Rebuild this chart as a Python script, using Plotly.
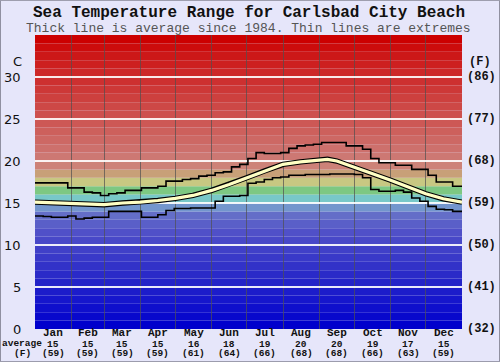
import plotly.graph_objects as go

# ---------------- data ----------------
months = ["Jan", "Feb", "Mar", "Apr", "May", "Jun", "Jul", "Aug", "Sep", "Oct", "Nov", "Dec"]
month_days = [31, 28, 31, 30, 31, 30, 31, 31, 30, 31, 30, 31]
avg_c = [15, 15, 15, 15, 16, 18, 19, 20, 20, 19, 17, 15]
avg_f = [59, 59, 59, 59, 61, 64, 66, 68, 68, 66, 63, 59]

left_ticks = [0, 5, 10, 15, 20, 25, 30]
right_ticks = ["(32)", "(41)", "(50)", "(59)", "(68)", "(77)", "(86)"]

# weekly extremes (day of year where each week starts)
week_day = [0, 7, 14, 21, 28, 35, 42, 49, 56, 63, 70, 77, 84, 91, 98, 105, 112, 119, 126,
            133, 140, 147, 154, 161, 168, 175, 182, 189, 196, 203, 210, 217, 224, 231, 238,
            245, 252, 259, 266, 273, 280, 287, 294, 301, 308, 315, 322, 329, 336, 343, 350,
            357, 365]
max_c = [17.4, 17.4, 17.4, 17.4, 16.8, 16.8, 16.3, 16.2, 15.9, 16.1, 16.2, 16.5, 16.5,
         16.8, 16.8, 17.0, 17.6, 17.6, 17.8, 17.9, 18.2, 18.3, 18.6, 18.7, 19.3, 19.6,
         20.3, 21.0, 20.9, 20.9, 21.0, 21.5, 21.8, 21.9, 22.0, 22.2, 22.2, 22.2, 21.8,
         21.8, 21.4, 20.3, 19.8, 19.8, 19.5, 19.5, 19.0, 19.0, 18.3, 17.5, 17.5, 17.0, 17.0]
min_c = [13.45, 13.4, 13.3, 13.3, 13.45, 13.1, 13.2, 13.3, 13.3, 14.0, 14.0, 14.0, 14.0,
         13.3, 13.3, 13.6, 14.1, 14.35, 14.35, 14.4, 14.4, 14.4, 15.2, 15.8, 15.8, 15.9,
         17.35, 17.5, 17.8, 18.0, 18.1, 18.3, 18.3, 18.4, 18.4, 18.4, 18.45, 18.45, 18.45,
         18.4, 18.0, 16.6, 16.4, 16.4, 16.5, 16.3, 15.6, 15.2, 14.6, 14.25, 14.2, 14.0, 14.0]

avg_day = [0, 15, 31, 45, 59, 75, 90, 105, 120, 135, 151, 166, 181, 196, 212, 227, 243,
           250, 258, 273, 288, 304, 319, 334, 349, 365]
avg_line = [15.1, 15.0, 14.9, 14.8, 14.8, 15.0, 15.1, 15.3, 15.55, 15.9, 16.5, 17.2, 18.0,
            18.8, 19.6, 19.9, 20.1, 20.2, 20.0, 19.3, 18.5, 17.7, 16.9, 16.1, 15.5, 15.1]

# ---------------- style ----------------
band_colors = [
    (0, 0, 204), (8, 8, 204), (15, 15, 204), (22, 22, 204), (28, 28, 202), (35, 35, 200),
    (42, 42, 200), (50, 50, 200), (57, 57, 200), (64, 64, 200), (72, 72, 200), (80, 80, 200),
    (90, 95, 200), (100, 110, 200), (115, 150, 205), (120, 200, 200), (125, 200, 130),
    (200, 200, 130), (200, 160, 120), (205, 130, 120), (205, 120, 115), (205, 112, 108),
    (205, 104, 100), (205, 96, 92), (205, 88, 85), (205, 80, 78), (205, 72, 70),
    (205, 64, 62), (205, 56, 55), (205, 48, 48), (205, 40, 40), (205, 32, 32),
    (204, 24, 24), (204, 12, 12), (204, 0, 0)]

W, H = 500, 362
ML, MR, MT, MB = 35, 38, 35, 33
PW, PH = W - ML - MR, H - MT - MB
mono = "Liberation Mono, Courier New, monospace"
sans = "DejaVu Sans, Verdana, sans-serif"

boundaries = []
acc = 0
for d in month_days[:-1]:
    acc += d
    boundaries.append(acc)
centers = []
acc = 0
for d in month_days:
    centers.append(acc + d / 2)
    acc += d

fig = go.Figure()

fig.add_trace(go.Scatter(x=week_day, y=max_c, mode="lines", line=dict(color="black", width=1.6, shape="hv"),
                         hoverinfo="skip", showlegend=False))
fig.add_trace(go.Scatter(x=week_day, y=min_c, mode="lines", line=dict(color="black", width=1.6, shape="hv"),
                         hoverinfo="skip", showlegend=False))
fig.add_trace(go.Scatter(x=avg_day, y=avg_line, mode="lines", line=dict(color="black", width=5.4),
                         hoverinfo="skip", showlegend=False))
fig.add_trace(go.Scatter(x=avg_day, y=avg_line, mode="lines", line=dict(color="#ffffc4", width=3.2),
                         hoverinfo="skip", showlegend=False))

shapes = []
for k, c in enumerate(band_colors):
    shapes.append(dict(type="rect", xref="paper", yref="y", x0=0, x1=1, y0=k, y1=k + 1,
                       fillcolor="rgb(%d,%d,%d)" % c, line=dict(width=0), layer="below"))
# outer frame
shapes.append(dict(type="rect", xref="paper", yref="paper",
                   x0=-ML / PW + 0.001, x1=1 + MR / PW - 0.001,
                   y0=-MB / PH + 0.001, y1=1 + MT / PH - 0.001,
                   line=dict(color="#8a8a9a", width=1), fillcolor="rgba(0,0,0,0)", layer="above"))

def py(pix):
    return (H - MB - pix) / PH

ann = []
ann.append(dict(text="<b>Sea Temperature Range for Carlsbad City Beach</b>", x=0.5, xref="paper",
                y=py(13), yref="paper", showarrow=False, font=dict(family=mono, size=16, color="#111"),
                xanchor="center", yanchor="middle"))
ann.append(dict(text="Thick line is average since 1984. Thin lines are extremes", x=(248 - ML) / PW,
                xref="paper", y=py(28), yref="paper", showarrow=False,
                font=dict(family=mono, size=13, color="#555"), xanchor="center", yanchor="middle"))
for v, rt in zip(left_ticks, right_ticks):
    ann.append(dict(text=str(v), x=(23 - ML) / PW, xref="paper", y=v, yref="y", showarrow=False,
                    font=dict(family=sans, size=13, color="#111"), xanchor="right", yanchor="middle"))
    ann.append(dict(text="<b>%s</b>" % rt, x=(465 - ML) / PW, xref="paper", y=v, yref="y", showarrow=False,
                    font=dict(family=mono, size=12, color="#111"), xanchor="left", yanchor="middle"))
ann.append(dict(text="C", x=(17 - ML) / PW, xref="paper", y=py(61), yref="paper", showarrow=False,
                font=dict(family=sans, size=13, color="#111"), xanchor="center", yanchor="middle"))
ann.append(dict(text="<b>(F)</b>", x=(480 - ML) / PW, xref="paper", y=py(62), yref="paper", showarrow=False,
                font=dict(family=mono, size=12, color="#111"), xanchor="center", yanchor="middle"))
ann.append(dict(text="<b>average</b>", x=(22 - ML) / PW, xref="paper", y=py(343.5), yref="paper",
                showarrow=False, font=dict(family=mono, size=9.5, color="#111"), xanchor="center",
                yanchor="middle", borderpad=0))
ann.append(dict(text="<b>(F)</b>", x=(22 - ML) / PW, xref="paper", y=py(353), yref="paper",
                showarrow=False, font=dict(family=mono, size=9.5, color="#111"), xanchor="center",
                yanchor="middle", borderpad=0))
for m, cx, ac, af in zip(months, centers, avg_c, avg_f):
    ann.append(dict(text="<b>%s</b>" % m, x=cx, xref="x", y=py(333.2), yref="paper", showarrow=False,
                    font=dict(family=mono, size=11, color="#111"), xanchor="center", yanchor="middle",
                    borderpad=0))
    ann.append(dict(text="<b>%d</b>" % ac, x=cx, xref="x", y=py(344), yref="paper", showarrow=False,
                    font=dict(family=mono, size=9.5, color="#111"), xanchor="center", yanchor="middle",
                    borderpad=0))
    ann.append(dict(text="<b>(%d)</b>" % af, x=cx, xref="x", y=py(353), yref="paper", showarrow=False,
                    font=dict(family=mono, size=9.5, color="#111"), xanchor="center", yanchor="middle",
                    borderpad=0))

fig.update_layout(
    width=W, height=H, margin=dict(l=ML, r=MR, t=MT, b=MB),
    paper_bgcolor="#e6e6fa", plot_bgcolor="#e6e6fa",
    shapes=shapes, annotations=ann, showlegend=False,
    xaxis=dict(range=[0, 365], tickvals=boundaries, showticklabels=False, ticks="",
               showgrid=True, gridcolor="rgba(80,80,80,0.7)", gridwidth=1, zeroline=False,
               showline=False, fixedrange=True),
    yaxis=dict(range=[0, 35], tickvals=[5, 10, 15, 20, 25, 30], showticklabels=False, ticks="",
               showgrid=True, gridcolor="rgba(255,255,255,0.9)", gridwidth=2, zeroline=False,
               showline=False, fixedrange=True),
)

fig.write_html("out.html", config={"displayModeBar": False},
               post_script="document.body.style.margin='0';document.body.style.overflow='hidden';")
